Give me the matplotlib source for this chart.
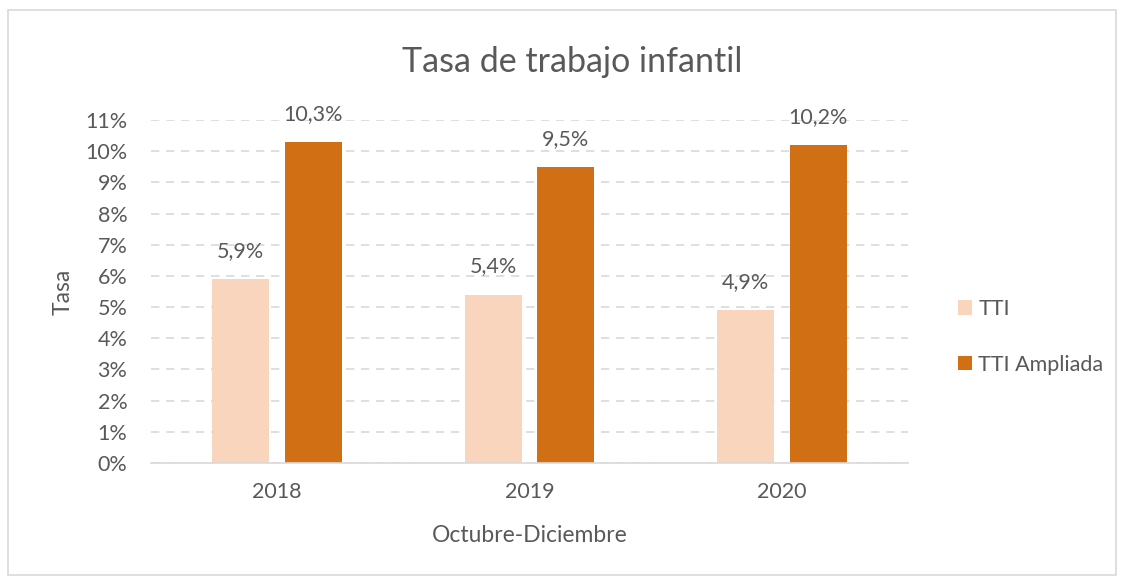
import matplotlib.pyplot as plt
import numpy as np
from matplotlib.patches import Rectangle

years = ["2018", "2019", "2020"]
tti = [5.9, 5.4, 4.9]
tti_ampliada = [10.3, 9.5, 10.2]
series_names = ["TTI", "TTI Ampliada"]

TEXT = "#595959"
GRID = "#d9d9d9"
plt.rcParams["font.family"] = ["Lato", "DejaVu Sans"]

fig = plt.figure(figsize=(11.24, 5.78), dpi=100)
fig.patches.append(Rectangle((0.007, 0.005), 0.986, 0.978, transform=fig.transFigure,
                             fill=False, edgecolor="#d9d9d9", linewidth=1.2))
ax = fig.add_axes([0.1343, 0.199, 0.6735, 0.5934])

x = np.arange(len(years))
w = 0.226
b1 = ax.bar(x - 0.144, tti, w, color="#f9d5bd", label=series_names[0])
b2 = ax.bar(x + 0.144, tti_ampliada, w, color="#d06f14", label=series_names[1])

for bars, vals in [(b1, tti), (b2, tti_ampliada)]:
    for rect, v in zip(bars, vals):
        ax.annotate(f"{v:.1f}%".replace(".", ","),
                    (rect.get_x() + rect.get_width() / 2, v),
                    xytext=(0, 13), textcoords="offset points",
                    ha="center", va="bottom", fontsize=15.5, color=TEXT)

ax.set_xlim(-0.5, 2.5)
ax.set_ylim(0, 11)
ax.set_yticks(range(0, 12))
ax.set_yticklabels([f"{i}%" for i in range(0, 12)])
ax.set_xticks(x)
ax.set_xticklabels(years)
ax.tick_params(axis="both", length=0, labelsize=15.5, colors=TEXT)
ax.tick_params(axis="y", pad=17)
ax.tick_params(axis="x", pad=14)
ax.grid(axis="y", color=GRID, linestyle=(0, (5, 4)), linewidth=1.2)
ax.set_axisbelow(True)
for s in ["top", "right", "left"]:
    ax.spines[s].set_visible(False)
ax.spines["bottom"].set_color(GRID)
ax.spines["bottom"].set_linewidth(1.2)

# title is centred on the whole chart area, not on the plot
fig.text(0.509, 0.893, "Tasa de trabajo infantil", fontsize=24.5, color=TEXT,
         ha="center", va="center")
ax.set_ylabel("Tasa", fontsize=16.5, color=TEXT, labelpad=8)
ax.set_xlabel("Octubre-Diciembre", fontsize=16.5, color=TEXT, labelpad=16)

leg = fig.legend(handles=[b1, b2], loc="center left", bbox_to_anchor=(0.835, 0.417),
                 frameon=False, fontsize=15.5, handlelength=0.65, handleheight=0.65,
                 handletextpad=0.3, labelspacing=1.65, labelcolor=TEXT)

fig.savefig("out.png", dpi=100)
